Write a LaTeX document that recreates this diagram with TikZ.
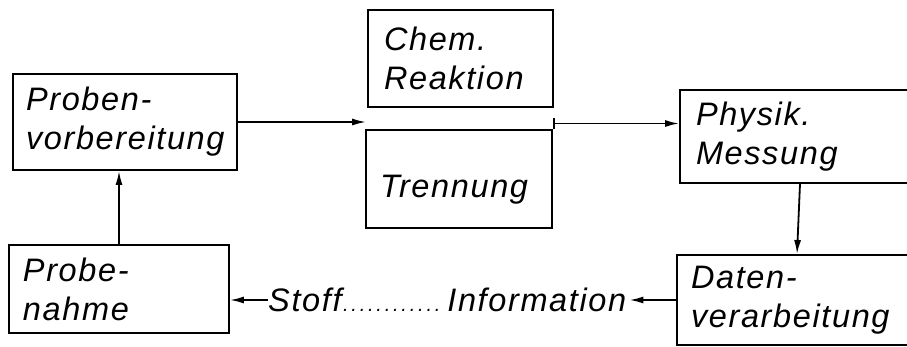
\documentclass[tikz,border=0pt]{standalone}
\usepackage{fontspec}
\newfontfamily\lab{Liberation Sans}[LetterSpace=5]
\usetikzlibrary{arrows.meta,calc}
\begin{document}
\begin{tikzpicture}[x=1pt,y=-1pt,
  font=\lab\itshape\fontsize{32.5}{39}\selectfont,
  box/.style={draw,line width=1.8pt,align=left,inner ysep=0pt},
  conn/.style={line width=1.8pt,-{Latex[length=14pt,width=7pt]}}]
\useasboundingbox (0,0) rectangle (907,346);
\node[box,minimum width=224pt,minimum height=96pt,text width=198pt,inner xsep=13pt] (pv) at (125,122) {Proben-\\vorbereitung};
\node[box,minimum width=185pt,minimum height=97pt,text width=165pt,inner xsep=10pt] (cr) at (460.5,58.5) {\hspace*{6pt}Chem.\\\hspace*{6pt}Reaktion};
\node[box,minimum width=186pt,minimum height=98pt,text width=168pt,inner xsep=9pt,text height=36pt,text depth=0pt] (tr) at (459,179) {\hspace*{5pt}Trennung};
\node[box,minimum width=240pt,minimum height=93pt,text width=222pt,inner xsep=9pt] (pm) at (800,136.5) {\hspace*{7pt}Physik.\\\hspace*{7pt}Messung};
\node[box,minimum width=240pt,minimum height=90pt,text width=228pt,inner xsep=6pt] (dv) at (797,300) {\hspace*{8pt}Daten-\\\hspace*{8pt}verarbeitung};
\node[box,minimum width=220pt,minimum height=88pt,text width=206pt,inner xsep=7pt] (pn) at (119,289) {\hspace*{7pt}Probe-\\\hspace*{7pt}nahme};
\node[inner sep=0pt,anchor=west] (fl) at (268,300) {\hbox to 358pt{Stoff{\fontsize{20}{20}\selectfont\xleaders\hbox to 8pt{\hss.\hss}\hfill}\,Information}};
\coordinate (gl) at ($(cr.south west)!0.5!(tr.north west)$);
\coordinate (gr) at ($(cr.south east)!0.5!(tr.north east)+(0,5)$);
\draw[conn] (pv.east) -- (pv.east -| gl);
\draw[conn,{Bar[width=11pt]}-{Latex[length=14pt,width=7pt]}] (gr) -- (gr -| pm.west);
\draw[conn] (pm.south) -- (dv.north);
\draw[conn] (dv.west) -- ([xshift=3pt]fl.east);
\draw[conn] (fl.west) -- (fl.west -| pn.east);
\draw[conn] (pn.north) -- (pn.north |- pv.south);
\end{tikzpicture}
\end{document}
